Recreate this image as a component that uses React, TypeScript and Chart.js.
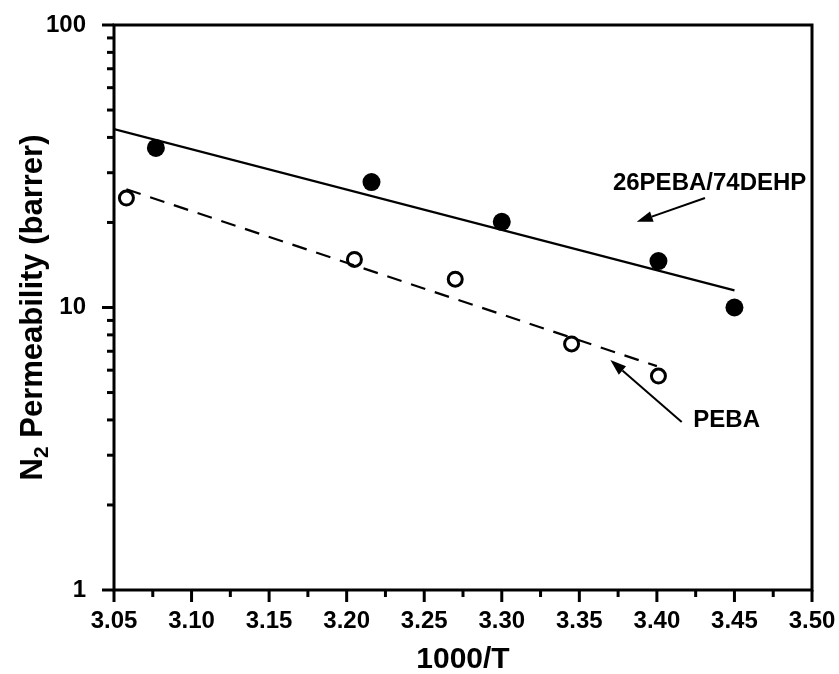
import React, { useEffect, useRef } from "react";
import { Chart, registerables } from "chart.js";

Chart.register(...registerables);

// Data
const filledX = [3.077, 3.216, 3.3, 3.401, 3.45];
const filledY = [36.7, 27.8, 20.1, 14.6, 10.0];
const openX = [3.058, 3.205, 3.27, 3.345, 3.401];
const openY = [24.4, 14.8, 12.6, 7.43, 5.72];
const fitSolidX = [3.05, 3.45];
const fitSolidY = [42.8, 11.5];
const fitDashX = [3.058, 3.4];
const fitDashY = [26.2, 6.2];
const xTickValues = [3.05, 3.1, 3.15, 3.2, 3.25, 3.3, 3.35, 3.4, 3.45, 3.5];
const yTickLabels = [1, 10, 100];

// Annotations (data coords)
const label1 = { text: "26PEBA/74DEHP", x: 3.434, y: 27.6 };
const arrow1 = { x1: 3.431, y1: 24.4, x2: 3.387, y2: 20.1 };
const label2 = { text: "PEBA", x: 3.445, y: 4.0 };
const arrow2 = { x1: 3.416, y1: 3.93, x2: 3.37, y2: 6.52 };

const FONT = "'Liberation Sans', Arial, sans-serif";

const pts = (xs: number[], ys: number[]) => xs.map((x, i) => ({ x, y: ys[i] }));

export default function App() {
  const ref = useRef<HTMLCanvasElement | null>(null);

  useEffect(() => {
    if (!ref.current) return;

    const decor = {
      id: "decor",
      beforeDraw(chart: any) {
        const c = chart.ctx;
        c.save();
        c.fillStyle = "#ffffff";
        c.fillRect(0, 0, chart.width, chart.height);
        c.restore();
      },
      afterDraw(chart: any) {
        const c = chart.ctx;
        const a = chart.chartArea;
        const xs = chart.scales.x;
        const ys = chart.scales.y;
        c.save();
        c.strokeStyle = "#000";
        c.lineWidth = 3;
        c.lineCap = "butt";
        // frame
        c.strokeRect(a.left, a.top, a.right - a.left, a.bottom - a.top);
        // x ticks
        for (let i = 0; i <= 18; i++) {
          const v = 3.05 + i * 0.025;
          const px = xs.getPixelForValue(v);
          const len = i % 2 === 0 ? 12 : 7;
          c.beginPath();
          c.moveTo(px, a.bottom);
          c.lineTo(px, a.bottom + len);
          c.stroke();
        }
        // y ticks
        for (const d of [1, 10]) {
          for (let k = 1; k <= 10; k++) {
            const v = d * k;
            const py = ys.getPixelForValue(v);
            const len = k === 1 || k === 10 ? 12 : 7;
            c.beginPath();
            c.moveTo(a.left, py);
            c.lineTo(a.left - len, py);
            c.stroke();
          }
        }
        // axis titles
        c.fillStyle = "#000";
        c.font = `bold 30px ${FONT}`;
        c.textAlign = "center";
        c.textBaseline = "middle";
        c.fillText("1000/T", (a.left + a.right) / 2, 660);

        // y title with subscript
        const cy = (a.top + a.bottom) / 2;
        c.save();
        c.translate(31, cy);
        c.rotate(-Math.PI / 2);
        const bigFont = `bold 31px ${FONT}`;
        const smallFont = `bold 21px ${FONT}`;
        c.font = bigFont;
        const wN = c.measureText("N").width;
        const wRest = c.measureText(" Permeability (barrer)").width;
        c.font = smallFont;
        const w2 = c.measureText("2").width;
        const total = wN + w2 + wRest;
        const x0 = -total / 2;
        c.textAlign = "left";
        c.textBaseline = "alphabetic";
        c.font = bigFont;
        c.fillText("N", x0, 11);
        c.font = smallFont;
        c.fillText("2", x0 + wN, 17);
        c.font = bigFont;
        c.fillText(" Permeability (barrer)", x0 + wN + w2, 11);
        c.restore();

        // annotations
        c.font = `bold 24px ${FONT}`;
        c.textAlign = "center";
        c.textBaseline = "middle";
        c.fillText(label1.text, xs.getPixelForValue(label1.x), ys.getPixelForValue(label1.y));
        c.fillText(label2.text, xs.getPixelForValue(label2.x), ys.getPixelForValue(label2.y));

        const drawArrow = (ar: any) => {
          const x1 = xs.getPixelForValue(ar.x1);
          const y1 = ys.getPixelForValue(ar.y1);
          const x2 = xs.getPixelForValue(ar.x2);
          const y2 = ys.getPixelForValue(ar.y2);
          const ang = Math.atan2(y2 - y1, x2 - x1);
          const hl = 16;
          const hw = 5.5;
          const bx = x2 - hl * Math.cos(ang);
          const by = y2 - hl * Math.sin(ang);
          c.lineWidth = 2;
          c.beginPath();
          c.moveTo(x1, y1);
          c.lineTo(bx, by);
          c.stroke();
          c.beginPath();
          c.moveTo(x2, y2);
          c.lineTo(bx + hw * Math.sin(ang), by - hw * Math.cos(ang));
          c.lineTo(bx - hw * Math.sin(ang), by + hw * Math.cos(ang));
          c.closePath();
          c.fill();
        };
        drawArrow(arrow1);
        drawArrow(arrow2);
        c.restore();
      },
    };

    const chart = new Chart(ref.current, {
      type: "scatter",
      data: {
        datasets: [
          {
            label: "fit 26PEBA/74DEHP",
            data: pts(fitSolidX, fitSolidY),
            showLine: true,
            borderColor: "#000",
            borderWidth: 2.2,
            pointRadius: 0,
          },
          {
            label: "fit PEBA",
            data: pts(fitDashX, fitDashY),
            showLine: true,
            borderColor: "#000",
            borderWidth: 2.2,
            borderDash: [15, 10],
            pointRadius: 0,
          },
          {
            label: "26PEBA/74DEHP",
            data: pts(filledX, filledY),
            backgroundColor: "#000",
            borderColor: "#000",
            pointRadius: 9,
            pointBorderWidth: 0,
          },
          {
            label: "PEBA",
            data: pts(openX, openY),
            backgroundColor: "#fff",
            borderColor: "#000",
            pointRadius: 7,
            pointBorderWidth: 3,
          },
        ],
      },
      plugins: [decor],
      options: {
        responsive: false,
        animation: false,
        events: [],
        layout: { autoPadding: false, padding: { top: 25, right: 27, left: 0, bottom: 0 } },
        plugins: {
          legend: { display: false },
          tooltip: { enabled: false },
          title: { display: false },
        },
        scales: {
          x: {
            type: "linear",
            min: 3.05,
            max: 3.5,
            afterBuildTicks: (s: any) => {
              s.ticks = xTickValues.map((v) => ({ value: v }));
            },
            ticks: {
              callback: (v: any) => Number(v).toFixed(2),
              font: { family: FONT, size: 24, weight: "bold" },
              color: "#000",
              padding: 9,
              maxRotation: 0,
              autoSkip: false,
            },
            grid: { display: false },
            border: { display: false },
            afterFit: (s: any) => {
              s.height = 84;
              s.paddingLeft = 0;
              s.paddingRight = 0;
              s.paddingTop = 0;
              s.paddingBottom = 0;
            },
          },
          y: {
            type: "logarithmic",
            min: 1,
            max: 100,
            afterBuildTicks: (s: any) => {
              s.ticks = yTickLabels.map((v) => ({ value: v }));
            },
            ticks: {
              callback: (v: any) => String(v),
              font: { family: FONT, size: 24, weight: "bold" },
              color: "#000",
              padding: 20,
              autoSkip: false,
            },
            grid: { display: false },
            border: { display: false },
            afterFit: (s: any) => {
              s.width = 114;
              s.paddingLeft = 0;
              s.paddingRight = 0;
              s.paddingTop = 0;
              s.paddingBottom = 0;
            },
          },
        },
      },
    } as any);

    return () => chart.destroy();
  }, []);

  return (
    <div style={{ position: "absolute", left: 0, top: 0, width: 839, height: 674, background: "#fff" }}>
      <canvas ref={ref} width={839} height={674} style={{ display: "block" }} />
    </div>
  );
}
